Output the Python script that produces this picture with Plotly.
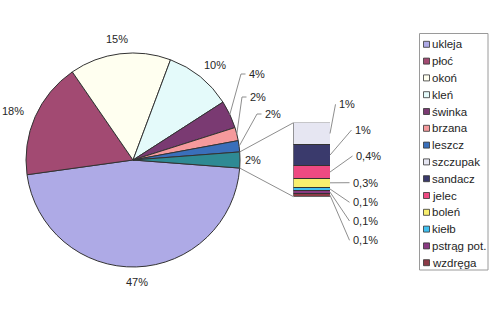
import math
import plotly.graph_objects as go

# ---------------- data ----------------
species = ["ukleja", "płoć", "okoń", "kleń", "świnka", "brzana", "leszcz"]
species_share = [46.6, 17.6, 15.3, 10.2, 4.2, 2.0, 1.7]
species_colors = ["#aeaae6", "#a24a72", "#fffff0", "#e4fafa", "#7a3a72", "#f59a9c", "#3a6fba"]

bar_species = ["szczupak", "sandacz", "jelec", "boleń", "kiełb", "pstrąg pot.", "wzdręga"]
bar_share = [0.7, 0.7, 0.4, 0.3, 0.1, 0.1, 0.1]
bar_colors = ["#e6e6f2", "#3a3a6c", "#ee4a82", "#f8ef6e", "#40c0f0", "#8a3a82", "#8c3a46"]

other_name = "pozostałe"
other_color = "#2e8a94"

# ---------------- layout constants ----------------
W, H = 500, 317
FONT = "Liberation Sans, Arial, sans-serif"
TXT = "#262626"
LINE = "#8e8e8e"
CX, CY, R = 133, 160, 107          # pie centre / radius (px)
BX0, BX1, BY0, BY1 = 293.5, 330, 122.7, 196.7   # bar box (px)


def X(px):
    return px / W


def Y(py):
    return 1 - py / H


def pct(v):
    if v >= 0.5:
        return f"{round(v)}%"
    return f"{v:.1f}".replace(".", ",") + "%"


other_total = sum(bar_share)
pie_labels = species + [other_name]
pie_values = species_share + [other_total]
pie_colors = species_colors + [other_color]
total = sum(pie_values)

fig = go.Figure()

# pie (clockwise, "other" slice centred at 3 o'clock)
rotation = 90 + other_total / total * 360 / 2
fig.add_trace(go.Pie(
    labels=pie_labels, values=pie_values, sort=False, direction="clockwise",
    rotation=rotation, textinfo="none", hoverinfo="label+percent",
    marker=dict(colors=pie_colors, line=dict(color="#333333", width=1)),
    domain=dict(x=[X(CX - R), X(CX + R)], y=[Y(CY + R), Y(CY - R)]),
    showlegend=False,
))

# stacked bar (bottom = last item)
for name, val, col in reversed(list(zip(bar_species, bar_share, bar_colors))):
    fig.add_trace(go.Bar(
        x=[0], y=[val], name=name, width=1,
        marker=dict(color=col, line=dict(color="#333333", width=1)),
        showlegend=False, hoverinfo="name+y",
    ))

shapes = []
annotations = []

# slice angles (math angle, degrees, CCW from east), going clockwise
start = -other_total / total * 360 / 2
angles = []
a = start
for v in pie_values:
    a0 = a
    a1 = a - v / total * 360
    angles.append((a0, a1))
    a = a1


def edge(ang, rad=R):
    return CX + rad * math.cos(math.radians(ang)), CY - rad * math.sin(math.radians(ang))


# big slice labels
for i, v in enumerate(species_share):
    if v < 5:
        continue
    mid = sum(angles[i]) / 2
    c, s = math.cos(math.radians(mid)), math.sin(math.radians(mid))
    lx = CX + c * (R + 10 + 14)
    ly = CY - s * (R + 10 + 5)
    annotations.append(dict(x=X(lx), y=Y(ly), text=pct(v), showarrow=False,
                            xref="paper", yref="paper", xanchor="center", yanchor="middle",
                            font=dict(family=FONT, size=11, color=TXT)))

# small slice labels with elbow leader lines
small_label_pos = {4: (247, 74), 5: (248, 97), 6: (263, 114)}
for i, (lx, ly) in small_label_pos.items():
    mid = sum(angles[i]) / 2
    ex, ey = edge(mid)
    elx = lx - 6
    shapes.append(dict(type="path", xref="paper", yref="paper",
                       path=f"M {X(ex)} {Y(ey)} L {X(elx)} {Y(ly)} L {X(lx - 1.5)} {Y(ly)}",
                       line=dict(color=LINE, width=1)))
    annotations.append(dict(x=X(lx), y=Y(ly), text=pct(species_share[i]), showarrow=False,
                            xref="paper", yref="paper", xanchor="left", yanchor="middle",
                            font=dict(family=FONT, size=11, color=TXT)))

# "other" slice label
ox, oy = edge(0, R + 3)
annotations.append(dict(x=X(ox), y=Y(oy), text=pct(other_total), showarrow=False,
                        xref="paper", yref="paper", xanchor="left", yanchor="middle",
                        font=dict(family=FONT, size=11, color=TXT)))

# connector lines pie -> bar
oa0, oa1 = angles[-1]
p_top = edge(max(oa0, oa1))
p_bot = edge(min(oa0, oa1))
shapes.append(dict(type="line", xref="paper", yref="paper",
                   x0=X(p_top[0]), y0=Y(p_top[1]), x1=X(BX0), y1=Y(BY0),
                   line=dict(color=LINE, width=1)))
shapes.append(dict(type="line", xref="paper", yref="paper",
                   x0=X(p_bot[0]), y0=Y(p_bot[1]), x1=X(BX0), y1=Y(BY1),
                   line=dict(color=LINE, width=1)))

# bar labels
bar_label_pos = [(337, 104.3), (353, 130), (354, 156), (351, 182.7),
                 (351, 202.3), (351, 221), (351, 240.3)]
cum = 0
for v, (lx, ly) in zip(bar_share, bar_label_pos):
    mid_y = BY0 + (cum + v / 2) / other_total * (BY1 - BY0)
    cum += v
    shapes.append(dict(type="line", xref="paper", yref="paper",
                       x0=X(BX1), y0=Y(mid_y), x1=X(lx - 1.5), y1=Y(ly),
                       line=dict(color=LINE, width=1)))
    annotations.append(dict(x=X(lx), y=Y(ly), text=pct(v), showarrow=False,
                            xref="paper", yref="paper", xanchor="left", yanchor="middle",
                            font=dict(family=FONT, size=11, color=TXT)))

# legend (manual)
shapes.append(dict(type="rect", xref="paper", yref="paper",
                   x0=X(419.5), y0=Y(270), x1=X(488), y1=Y(33.5),
                   line=dict(color="#9a9a9a", width=1), fillcolor="rgba(0,0,0,0)"))
leg_names = species + bar_species
leg_colors = species_colors + bar_colors
for k, (nm, col) in enumerate(zip(leg_names, leg_colors)):
    yy = 44.3 + 16.8 * k
    shapes.append(dict(type="rect", xref="paper", yref="paper",
                       x0=X(423.5), y0=Y(yy + 3), x1=X(429.5), y1=Y(yy - 3),
                       line=dict(color="#333333", width=0.8), fillcolor=col))
    annotations.append(dict(x=X(430), y=Y(yy), text=nm, showarrow=False,
                            xref="paper", yref="paper", xanchor="left", yanchor="middle",
                            font=dict(family=FONT, size=11.5, color="#1e1e1e")))

fig.update_layout(
    width=W, height=H, margin=dict(l=0, r=0, t=0, b=0),
    paper_bgcolor="white", plot_bgcolor="rgba(0,0,0,0)",
    barmode="stack", bargap=0,
    xaxis=dict(domain=[X(BX0), X(BX1)], range=[-0.5, 0.5], visible=False, fixedrange=True),
    yaxis=dict(domain=[Y(BY1), Y(BY0)], range=[0, other_total], visible=False, fixedrange=True),
    shapes=shapes, annotations=annotations,
    font=dict(family=FONT, color=TXT),
)

fig.write_html("out.html")
